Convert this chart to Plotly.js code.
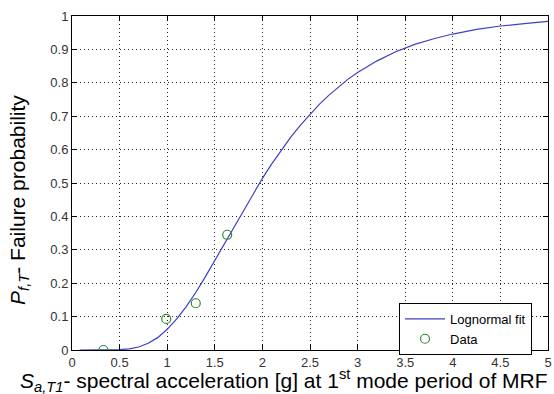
<!DOCTYPE html>
<html>
<head>
<meta charset="utf-8">
<script src="https://cdn.plot.ly/plotly-3.0.1.min.js"></script>
<style>html,body{margin:0;padding:0;background:#fff;}#chart{width:554px;height:394px;}</style>
</head>
<body>
<div id="chart"></div>
<script>
// Lognormal fit curve
var fitX = [0.08, 0.2, 0.3, 0.4, 0.5, 0.6, 0.7, 0.8, 0.9, 1.0, 1.1, 1.2, 1.3, 1.4, 1.5, 1.6, 1.7, 1.8, 1.9, 2.0,
            2.1, 2.2, 2.3, 2.4, 2.5, 2.6, 2.7, 2.8, 2.9, 3.0, 3.2, 3.4, 3.6, 3.8, 4.0, 4.25, 4.5, 4.75, 5.0];
var fitY = [0, 0, 0, 0.0001, 0.0009, 0.0035, 0.009, 0.020, 0.037, 0.062, 0.093, 0.130, 0.172, 0.219, 0.268, 0.318, 0.369, 0.419, 0.467, 0.514,
            0.558, 0.599, 0.638, 0.673, 0.706, 0.736, 0.763, 0.788, 0.811, 0.831, 0.865, 0.893, 0.915, 0.932, 0.946, 0.960, 0.970, 0.977, 0.984];
// Observed data points
var dataX = [0.33, 0.99, 1.30, 1.63];
var dataY = [0.0, 0.093, 0.14, 0.345];

var xTicks = [0, 0.5, 1, 1.5, 2, 2.5, 3, 3.5, 4, 4.5, 5];
var xTickText = ["0", "0.5", "1", "1.5", "2", "2.5", "3", "3.5", "4", "4.5", "5"];
var yTicks = [0, 0.1, 0.2, 0.3, 0.4, 0.5, 0.6, 0.7, 0.8, 0.9, 1];
var yTickText = ["0", "0.1", "0.2", "0.3", "0.4", "0.5", "0.6", "0.7", "0.8", "0.9", "1"];

var xTitle = '<i>S<sub>a,T1</sub></i>- spectral acceleration [g] at 1<sup>st</sup> mode period of MRF';
var yTitle = '<i>P<sub>f,T</sub></i>- Failure probability';

var traces = [
  {x: fitX, y: fitY, type: 'scatter', mode: 'lines', name: 'Lognormal fit',
   line: {color: '#3f3fc4', width: 1.2}},
  {x: dataX, y: dataY, type: 'scatter', mode: 'markers', name: 'Data',
   marker: {symbol: 'circle-open', size: 9, color: '#2e8b2e', line: {width: 1.2, color: '#2e8b2e'}}}
];

var FONT = 'Liberation Sans, Arial, sans-serif';
var axisCommon = {
  showline: true, linecolor: '#000', linewidth: 1, mirror: 'ticks',
  ticks: 'inside', ticklen: 5, tickcolor: '#000',
  showgrid: true, gridcolor: '#222', gridwidth: 1, griddash: '1px,3px',
  zeroline: false, tickfont: {family: FONT, size: 13, color: '#333'}
};

var layout = {
  width: 554, height: 394,
  margin: {l: 72, r: 6, t: 16, b: 44},
  paper_bgcolor: '#fff', plot_bgcolor: '#fff',
  showlegend: true,
  xaxis: Object.assign({}, axisCommon, {range: [0, 5], tickvals: xTicks, ticktext: xTickText}),
  yaxis: Object.assign({}, axisCommon, {range: [0, 1], tickvals: yTicks, ticktext: yTickText}),
  annotations: [
    {text: xTitle, xref: 'paper', yref: 'paper', x: 0.445, y: -0.09, xanchor: 'center', yanchor: 'middle',
     showarrow: false, font: {family: FONT, size: 21, color: '#000'}},
    {text: yTitle, xref: 'paper', yref: 'paper', x: -0.113, y: 0.45, xanchor: 'center', yanchor: 'middle',
     textangle: -90, showarrow: false, font: {family: FONT, size: 21, color: '#000'}}
  ],
  legend: {x: 0.687, y: 0.141, xanchor: 'left', yanchor: 'top',
           bgcolor: '#fff', bordercolor: '#000', borderwidth: 1,
           font: {family: FONT, size: 13, color: '#000'},
           tracegroupgap: 0, itemwidth: 40}
};

Plotly.newPlot('chart', traces, layout, {displayModeBar: false, staticPlot: true});
</script>
</body>
</html>
